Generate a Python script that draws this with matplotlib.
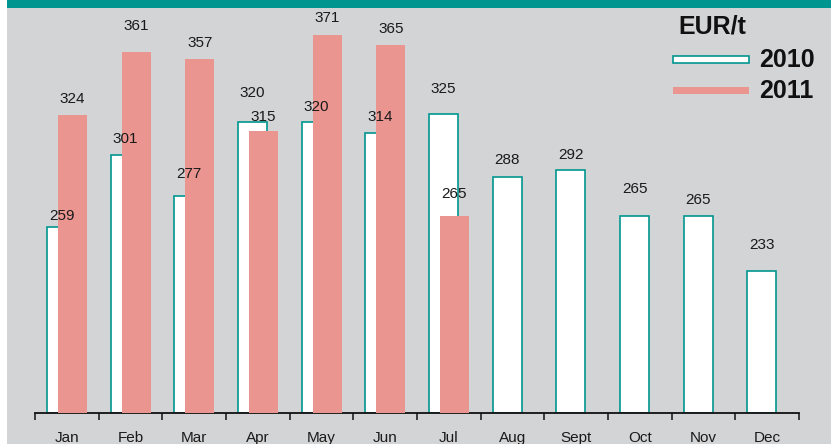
import matplotlib.pyplot as plt
from matplotlib.patches import Rectangle

# data (EUR/t)
months = ["Jan", "Feb", "Mar", "Apr", "May", "Jun",
          "Jul", "Aug", "Sept", "Oct", "Nov", "Dec"]
eur_2010 = [259, 301, 277, 320, 320, 314, 325, 288, 292, 265, 265, 233]
eur_2011 = [324, 361, 357, 315, 371, 365, 265]

# label gap above each bar top, in pixels
pad_2010 = [11, 16, 22, 29, 15, 16, 25, 17, 15, 27, 16, 26]
pad_2011 = [16, 26, 16, 14, 17, 16, 22]

W, H = 831, 444
GREY = "#d3d4d6"
TEAL = "#00968f"
SALMON = "#eb9591"
TXT = "#1a1a1a"

plt.rcParams["font.family"] = ["Liberation Sans", "DejaVu Sans"]

fig = plt.figure(figsize=(W / 100, H / 100), dpi=100, facecolor="white")
fig.patches.append(Rectangle((7 / W, 0), 1, 1, transform=fig.transFigure,
                             facecolor=GREY, edgecolor="none", zorder=-3))
fig.patches.append(Rectangle((7 / W, 436 / H), 1, 1, transform=fig.transFigure,
                             facecolor=TEAL, edgecolor="none", zorder=-2))

ax = fig.add_axes([35 / W, 31 / H, 764 / W, 405 / H])
ax.set_facecolor("none")
ax.set_xlim(0, 12)
ax.set_ylim(150, 150 + 405 / 1.71)

bw = 0.455
x10 = [i + 0.19 + bw / 2 for i in range(len(eur_2010))]
x11 = [i + 0.36 + bw / 2 for i in range(len(eur_2011))]

ax.bar(x10, [v - 150 for v in eur_2010], bottom=150, width=bw,
       facecolor="white", edgecolor=TEAL, linewidth=1.2, zorder=2)
ax.bar(x11, [v - 150 for v in eur_2011], bottom=150, width=bw,
       facecolor=SALMON, edgecolor="none", zorder=3)

for x, v, p in zip(x10, eur_2010, pad_2010):
    ax.annotate(str(v), (x, v), xytext=(0, p), textcoords="offset pixels",
                ha="center", va="center", fontsize=11, color=TXT, zorder=5)
for x, v, p in zip(x11, eur_2011, pad_2011):
    ax.annotate(str(v), (x, v), xytext=(0, p), textcoords="offset pixels",
                ha="center", va="center", fontsize=11, color=TXT, zorder=5)

for s in ["top", "right", "left"]:
    ax.spines[s].set_visible(False)
ax.spines["bottom"].set_linewidth(1.3)
ax.spines["bottom"].set_color("#111111")
ax.set_yticks([])
ax.set_xticks(range(13))
ax.set_xticklabels([])
ax.tick_params(axis="x", length=5, width=1.1, color="#111111", direction="out")
ax.set_xticks([i + 0.5 for i in range(12)], minor=True)
ax.set_xticklabels(months, minor=True, fontsize=11, color=TXT)
ax.tick_params(axis="x", which="minor", length=0, pad=13)

# legend drawn by hand
fig.text(678 / W, 1 - 27 / H, "EUR/t", fontsize=18, fontweight="bold",
         va="center", ha="left", color="#111111")
fig.patches.append(Rectangle((673 / W, 1 - 63 / H), 76 / W, 7 / H,
                             transform=fig.transFigure, facecolor="white",
                             edgecolor=TEAL, linewidth=1.2, zorder=3))
fig.patches.append(Rectangle((673 / W, 1 - 94 / H), 76 / W, 7 / H,
                             transform=fig.transFigure, facecolor=SALMON,
                             edgecolor="none", zorder=3))
fig.text(759 / W, 1 - 60 / H, "2010", fontsize=18, fontweight="bold",
         va="center", ha="left", color="#111111")
fig.text(759 / W, 1 - 91 / H, "2011", fontsize=18, fontweight="bold",
         va="center", ha="left", color="#111111")

fig.savefig("out.png", dpi=100, facecolor=fig.get_facecolor())
